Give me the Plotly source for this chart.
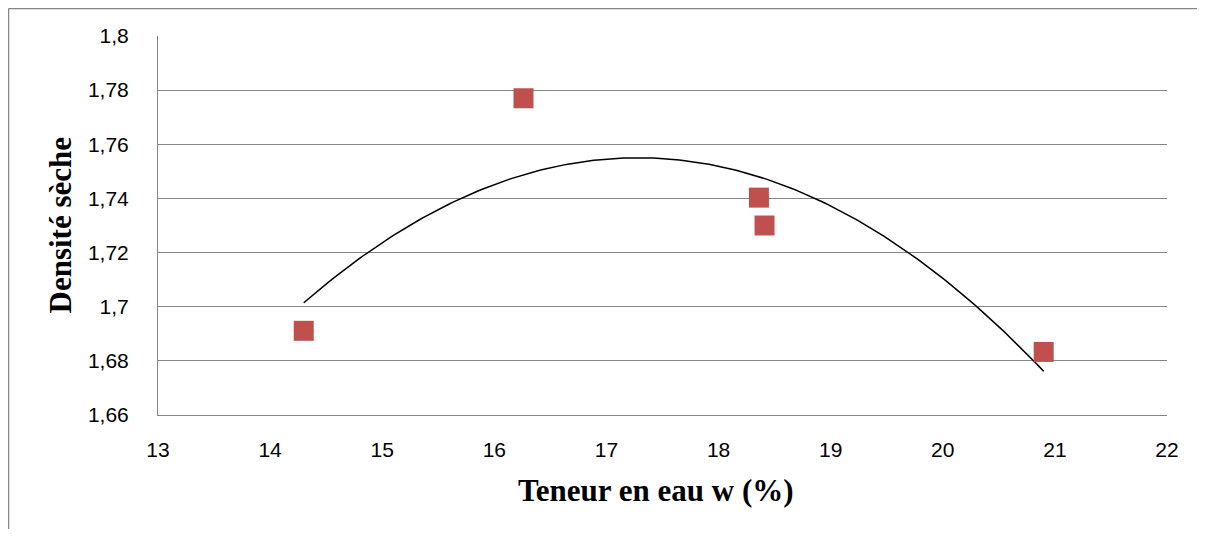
import numpy as np
import plotly.graph_objects as go

# Data
teneur_eau = [14.30, 16.26, 18.36, 18.41, 20.90]
densite_seche = [1.6911, 1.7770, 1.7403, 1.7300, 1.6833]
x_ticks = [13, 14, 15, 16, 17, 18, 19, 20, 21, 22]
y_ticks = [1.66, 1.68, 1.70, 1.72, 1.74, 1.76, 1.78, 1.80]
y_tick_labels = ["1,66", "1,68", "1,7", "1,72", "1,74", "1,76", "1,78", "1,8"]
x_title = "<b>Teneur en eau w (%)</b>"
y_title = "<b>Densité sèche</b>"

# Polynomial (order 2) trendline fitted to the data, as in the original spreadsheet chart
coef = np.polyfit(teneur_eau, densite_seche, 2)
xt = np.linspace(min(teneur_eau), max(teneur_eau), 200)
yt = np.polyval(coef, xt)

# page body has an 8px margin all round, so the figure is drawn 16px smaller and shifted
W, H = 1189, 521
ml, mr, mt, mb = 150, 30, 28, 114
pw, ph = W - ml - mr, H - mt - mb

fig = go.Figure()
fig.add_trace(go.Scatter(x=xt, y=yt, mode="lines",
                         line=dict(color="black", width=1.5),
                         showlegend=False, hoverinfo="skip"))
fig.add_trace(go.Scatter(x=teneur_eau, y=densite_seche, mode="markers",
                         marker=dict(symbol="square", size=20, color="#C0504D",
                                     line=dict(width=0)),
                         showlegend=False))

tick_font = dict(family="Liberation Sans", size=21, color="black")
title_font = dict(family="Liberation Serif", size=31, color="black")

px0 = (0.5 - ml) / pw
py1 = 1 + (mt - 0.5) / ph
fig.update_layout(
    width=W, height=H,
    margin=dict(l=ml, r=mr, t=mt, b=mb, pad=0),
    paper_bgcolor="white", plot_bgcolor="white",
    xaxis=dict(range=[13, 22], tickvals=x_ticks, ticktext=[str(v) for v in x_ticks],
               showgrid=False, zeroline=False, showline=True, linecolor="#868686",
               linewidth=1, ticks="", ticklabelstandoff=16, tickfont=tick_font),
    yaxis=dict(range=[1.66, 1.80], tickvals=y_ticks, ticktext=y_tick_labels,
               showgrid=True, gridcolor="#868686", gridwidth=1,
               zeroline=False, showline=True, linecolor="#868686", linewidth=1,
               ticks="", ticklabelstandoff=24, tickfont=tick_font),
    annotations=[
        dict(text=x_title, xref="paper", yref="paper",
             x=(648 - ml) / pw, y=((H - mb) - 482) / ph,
             xanchor="center", yanchor="middle", showarrow=False, font=title_font),
        dict(text=y_title, xref="paper", yref="paper",
             x=(51.5 - ml) / pw, y=((H - mb) - 218) / ph, textangle=-90,
             xanchor="center", yanchor="middle", showarrow=False, font=title_font),
    ],
    shapes=[
        dict(type="line", xref="paper", yref="paper",
             x0=px0, x1=1 + mr / pw, y0=py1, y1=py1,
             line=dict(color="#868686", width=1.5), layer="below"),
        dict(type="line", xref="paper", yref="paper",
             x0=px0, x1=px0, y0=py1, y1=-mb / ph,
             line=dict(color="#868686", width=1.5), layer="below"),
    ],
)

fig.write_html("out.html")
